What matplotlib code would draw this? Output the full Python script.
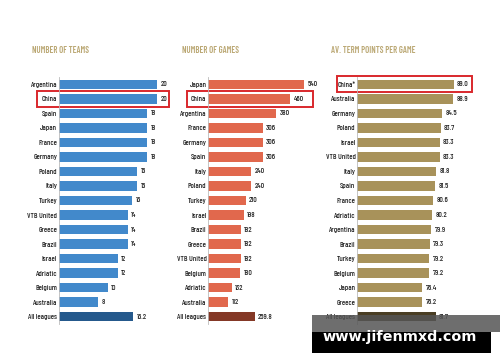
import matplotlib
matplotlib.use("Agg")
import matplotlib.pyplot as plt
from matplotlib.patches import Rectangle
from matplotlib.transforms import blended_transform_factory
from matplotlib import font_manager

teams_cats = ["Argentina", "China", "Spain", "Japan", "France", "Germany", "Poland", "Italy",
              "Turkey", "VTB United", "Greece", "Brazil", "Israel", "Adriatic", "Belgium",
              "Australia", "All leagues"]
teams_vals = [20, 20, 18, 18, 18, 18, 16, 16, 15, 14, 14, 14, 12, 12, 10, 8, 15.2]
teams_lbls = ["20", "20", "18", "18", "18", "18", "16", "16", "15", "14", "14", "14", "12",
              "12", "10", "8", "15.2"]

games_cats = ["Japan", "China", "Argentina", "France", "Germany", "Spain", "Italy", "Poland",
              "Turkey", "Israel", "Brazil", "Greece", "VTB United", "Belgium", "Adriatic",
              "Australia", "All leagues"]
games_vals = [540, 460, 380, 306, 306, 306, 240, 240, 210, 198, 182, 182, 182, 180, 132, 112, 259.8]
games_lbls = ["540", "460", "380", "306", "306", "306", "240", "240", "210", "198", "182",
              "182", "182", "180", "132", "112", "259.8"]

pts_cats = ["China*", "Australia", "Germany", "Poland", "Israel", "VTB United", "Italy", "Spain",
            "France", "Adriatic", "Argentina", "Brazil", "Turkey", "Belgium", "Japan", "Greece",
            "All leagues"]
pts_vals = [89.0, 88.9, 84.5, 83.7, 83.3, 83.3, 81.8, 81.5, 80.6, 80.2, 79.9, 79.3, 79.2, 79.2,
            76.4, 76.2, 81.7]
pts_lbls = ["89.0", "88.9", "84.5", "83.7", "83.3", "83.3", "81.8", "81.5", "80.6", "80.2",
            "79.9", "79.3", "79.2", "79.2", "76.4", "76.2", "81.7"]

titles = ["NUMBER OF TEAMS", "NUMBER OF GAMES", "AV. TERM POINTS PER GAME"]

avail = {f.name for f in font_manager.fontManager.ttflist}
fam = "Barlow Condensed" if "Barlow Condensed" in avail else "DejaVu Sans"
plt.rcParams["font.family"] = [fam, "DejaVu Sans"]

W, H = 500, 362
fig = plt.figure(figsize=(5.0, 3.62), dpi=100)
fig.patch.set_facecolor("white")

n = len(teams_cats)
top_c, bot_c = 84.3, 316.7
step = (bot_c - top_c) / (n - 1)
y_top = top_c - step / 2
y_bot = bot_c + step / 2

panels = [
    dict(cats=teams_cats, vals=teams_vals, lbls=teams_lbls, x0=59, w=120, xlim=(0, 24.5),
         c="#4289cb", cd="#25598c", title=titles[0], tx=31.5, box=(37, 168.5), hi="China"),
    dict(cats=games_cats, vals=games_vals, lbls=games_lbls, x0=208.3, w=110, xlim=(0, 618),
         c="#e1684d", cd="#843826", title=titles[1], tx=181.5, box=(186.5, 312.5), hi="China"),
    dict(cats=pts_cats, vals=pts_vals, lbls=pts_lbls, x0=357.3, w=120, xlim=(50, 98.6),
         c="#a8925a", cd="#4a3e24", title=titles[2], tx=331, box=(336.5, 471.5), hi="China*"),
]

LFS = 5.6
for p in panels:
    ax = fig.add_axes([p["x0"] / W, (H - y_bot) / H, p["w"] / W, (y_bot - y_top) / H])
    ys = list(range(len(p["cats"])))
    colors = [p["c"]] * (len(ys) - 1) + [p["cd"]]
    ax.barh(ys, [v - p["xlim"][0] for v in p["vals"]], left=p["xlim"][0], height=0.66,
            color=colors)
    ax.set_xlim(*p["xlim"])
    ax.set_ylim(len(ys) - 0.5, -0.5)
    ax.set_yticks(ys)
    ax.set_yticklabels(p["cats"], fontsize=LFS, color="#222222", fontweight="medium")
    ax.tick_params(axis="y", length=0, pad=1.3)
    ax.set_xticks([])
    for s in ["top", "right", "bottom"]:
        ax.spines[s].set_visible(False)
    ax.spines["left"].set_color("#bbbbbb")
    ax.spines["left"].set_linewidth(0.6)
    ax.set_facecolor("none")
    for y, v, l in zip(ys, p["vals"], p["lbls"]):
        ax.annotate(l, (v, y), xytext=(2.5, 0), textcoords="offset points",
                    va="center", ha="left", fontsize=LFS, color="#222222",
                    fontweight="medium")
    fig.text(p["tx"] / W, 1 - 50.5 / H, p["title"], fontsize=6.3, fontweight="semibold",
             color="#bba874", ha="left", va="center")
    # highlight box around the China row
    hi = p["cats"].index(p["hi"])
    tr = blended_transform_factory(fig.transFigure, ax.transData)
    x1, x2 = p["box"]
    ax.add_patch(Rectangle((x1 / W, hi - 0.54), (x2 - x1) / W, 1.08, transform=tr,
                           fill=False, edgecolor="#d9282c", linewidth=1.4, clip_on=False))

# watermark
fig.patches.append(Rectangle((311.7 / W, 1 - 331.7 / H), (W - 311.7) / W, 16.7 / H,
                             transform=fig.transFigure, facecolor="#555555", alpha=0.85,
                             edgecolor="none", zorder=10))
fig.patches.append(Rectangle((311.7 / W, 1 - 352.7 / H), (491 - 311.7) / W, 21 / H,
                             transform=fig.transFigure, facecolor="black",
                             edgecolor="none", zorder=10))
fig.text(400 / W, 1 - 337.5 / H, "www.jifenmxd.com", fontsize=10.4, fontweight="bold",
         color="white", ha="center", va="center", family="DejaVu Sans", zorder=11)

fig.savefig("out.png", dpi=100)
